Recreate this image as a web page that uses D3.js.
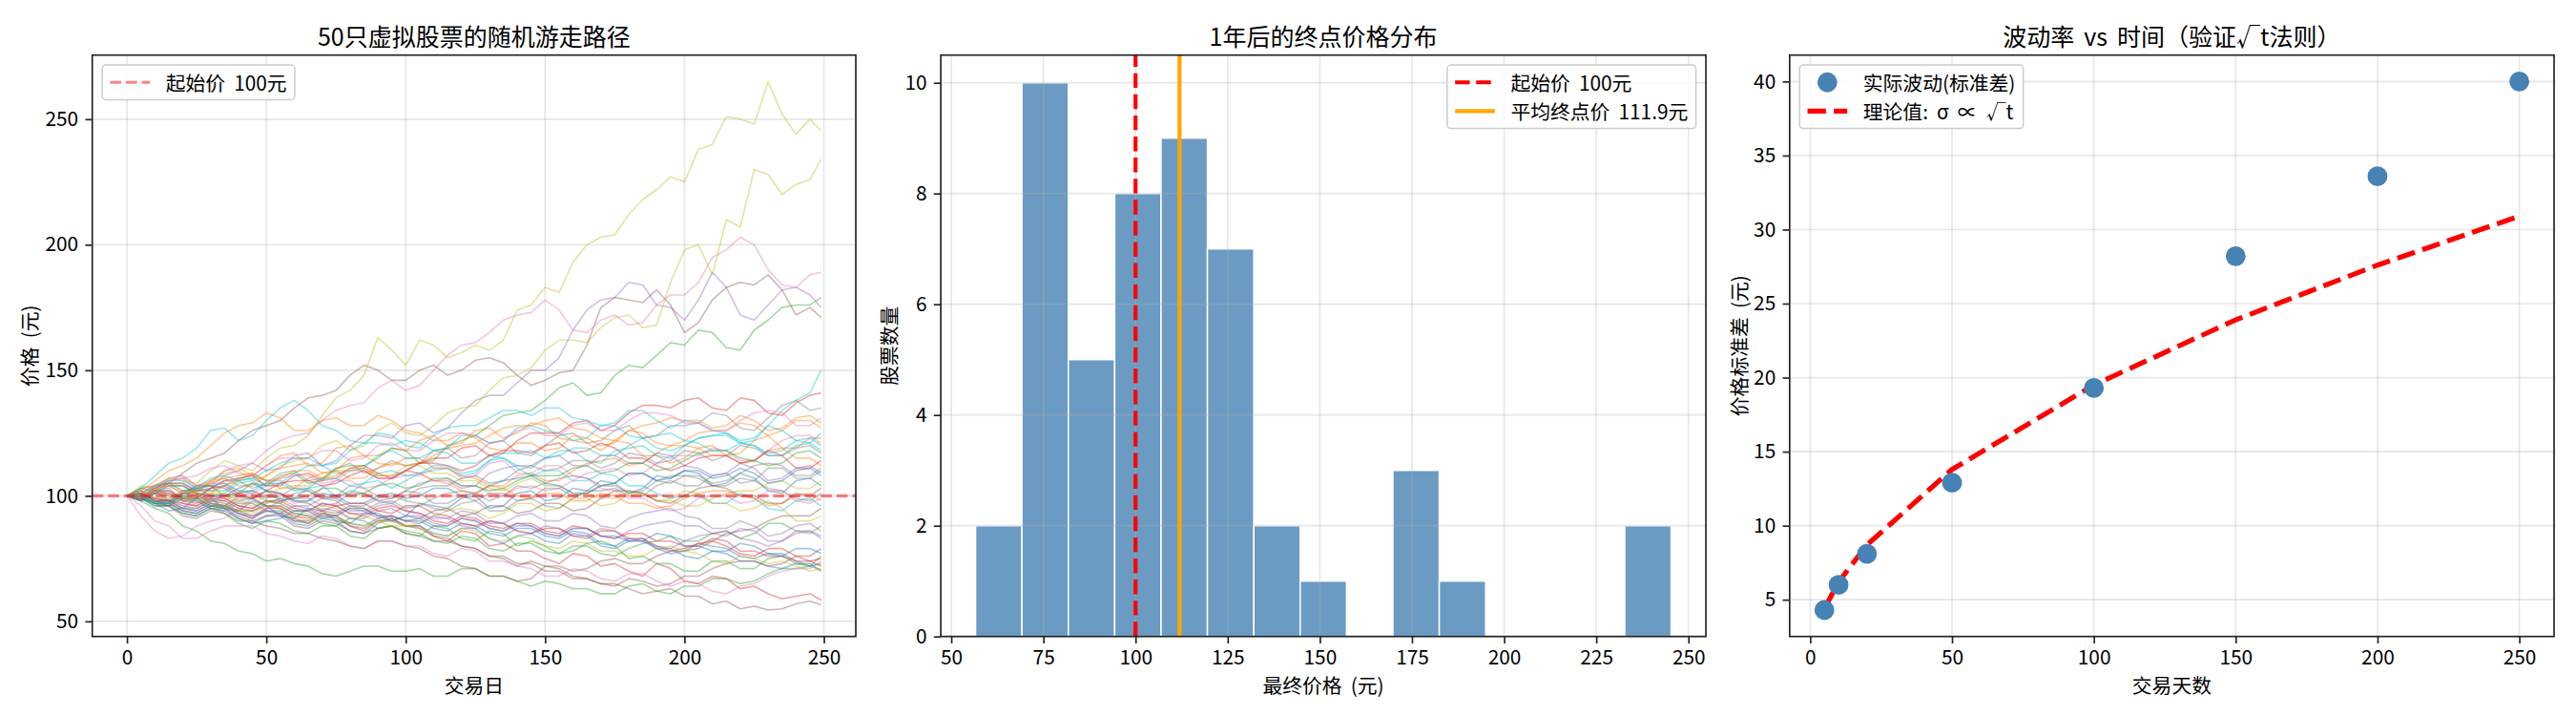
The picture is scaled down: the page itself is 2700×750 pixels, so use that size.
<!DOCTYPE html>
<html>
<head>
<meta charset="utf-8">
<script src="https://cdn.jsdelivr.net/npm/d3@7"></script>
<style>
  body { margin: 0; background: #fff; }
  svg { font-family: "Noto Sans CJK SC", "DejaVu Sans", sans-serif; word-spacing: 0.28em; }
</style>
</head>
<body>
<svg id="fig" width="2700" height="750"></svg>
<script>
// ---- data ----
const startPrice = 100;
const days = [0, 5, 10, 15, 20, 25, 30, 35, 40, 45, 50, 55, 60, 65, 70, 75, 80, 85, 90, 95, 100, 105, 110, 115, 120,
  125, 130, 135, 140, 145, 150, 155, 160, 165, 170, 175, 180, 185, 190, 195, 200, 205, 210, 215, 220, 225, 230, 235, 240, 245, 249];

// price of each of the 50 stocks on the days above
const paths = [
  [100,101,97,94,95,99,99,95,94,98,96,92,91,95,94,90,89,93,93,90,92,97,96,95,99,100,95,96,101,102,98,99,103,102,106,105,101,103,108,107,110,109,104,105,109,107,102,101,106,107,104],
  [100,98,104,107,108,104,105,110,111,108,112,116,117,112,113,119,120,116,116,119,118,122,124,120,121,126,127,123,125,129,128,123,122,121,118,122,121,116,116,113,115,119,120,116,117,122,124,119,119,123,123],
  [100,103,102,98,99,103,104,100,101,105,104,108,109,105,106,111,112,112,115,119,118,113,114,120,122,124,128,132,133,134,138,143,145,140,141,148,152,151,156,161,160,166,165,159,158,166,170,175,176,176,179],
  [100,102,98,96,101,101,97,96,93,91,95,95,91,89,93,92,88,86,90,91,88,88,84,82,86,85,80,81,78,78,75,73,77,76,72,73,70,68,73,71,66,65,68,67,63,64,61,59,60,61,58.5],
  [100,99,103,106,107,103,104,108,110,113,110,111,116,117,112,114,120,124,124,123,128,129,125,127,133,138,140,140,145,150,150,155,166,174,178,179,185,184,176,175,170,178,189,183,172,170,176,182,183,180,175],
  [100,103,104,105,109,113,115,117,122,126,128,130,135,139,140,142,148,152,150,146,146,150,152,148,150,154,155,153,148,144,146,149,150,160,175,179,178,177,182,176,165,169,178,183,185,184,188,182,172,175,171],
  [100,99,103,107,108,104,106,110,112,113,118,122,124,125,130,134,136,137,143,146,142,144,150,156,160,161,165,170,172,173,178,174,166,165,170,172,168,169,176,180,180,185,195,198,203,200,190,184,183,188,189],
  [100,98,102,103,98,99,103,106,106,103,105,109,110,106,107,111,113,109,111,114,112,113,118,119,115,116,121,122,117,116,120,124,125,121,122,126,128,123,124,128,128,129,133,132,127,126,131,136,138,134,135],
  [100,101,104,107,106,105,110,114,112,110,115,119,120,124,132,139,142,148,163,158,152,162,160,155,157,160,158,162,174,176,183,181,193,200,203,204,212,218,222,227,225,238,240,251,250,248,265,252,244,250,245.3],
  [100,101,98,97,102,103,100,101,105,106,102,98,99,103,104,100,101,105,106,103,106,109,110,111,108,109,114,115,112,111,115,118,118,114,113,118,119,120,116,115,120,123,124,125,121,122,128,134,138,141,150],
  [100,99,97,97,94,93,96,95,91,89,92,93,89,88,91,90,86,85,89,91,88,88,85,84,87,87,83,81,84,85,82,81,85,84,80,79,82,83,79,77,78,81,80,79,76,75,77,77,74,72,73],
  [100,101,104,105,102,102,106,107,104,104,108,111,112,113,109,110,115,116,113,112,115,115,111,111,108,107,104,104,108,109,106,106,110,113,114,115,112,113,117,120,120,119,116,116,113,114,118,119,115,115,112],
  [100,99,96,96,93,92,95,93,89,87,90,89,86,85,88,88,84,83,87,88,85,84,88,87,83,82,86,85,80,82,80,77,78,81,82,80,75,76,73,73,70,70,74,74,71,71,75,76,73,72,76],
  [100,99,102,105,105,102,103,106,107,108,104,104,108,109,106,107,111,112,109,107,110,113,115,115,119,120,116,117,122,125,125,125,129,130,126,128,133,136,136,135,138,139,135,134,139,138,133,132,137,140,141],
  [100,98,101,100,97,96,99,99,96,95,98,97,94,94,97,96,93,93,96,97,94,93,91,91,94,93,89,89,92,93,90,90,93,92,88,87,91,93,94,95,92,91,87,87,90,88,84,85,88,89,86],
  [100,100,97,97,94,93,96,95,92,90,92,92,88,87,90,89,86,85,87,88,85,84,82,82,80,79,76,76,73,73,70,70,67,67,65,65,63,61,62,63,60,60,57,58,55,56,54.5,55,57,58,56.6],
  [100,92,86,83,84,88,90,91,95,99,100,101,97,98,103,106,106,103,104,107,108,108,111,111,107,108,113,114,109,109,112,112,108,107,103,102,99,99,96,94,95,99,100,100,97,98,102,102,98,97,99],
  [100,98,101,102,99,99,96,96,100,101,98,97,101,102,99,100,104,103,100,99,102,101,97,97,100,98,94,94,98,99,96,95,99,102,102,103,100,100,104,106,104,104,108,109,105,106,111,111,107,107,110],
  [100,104,103,100,99,101,106,109,110,106,108,112,114,115,120,122,118,120,126,129,125,124,128,133,135,136,142,147,148,151,158,162,162,161,167,171,172,167,168,185,198,200,188,210,207,230,228,220,224,226,234],
  [100,100,103,106,106,103,102,102,106,107,104,105,109,112,112,109,110,111,116,118,115,115,118,117,113,113,116,115,111,108,110,110,106,106,109,108,104,104,101,99,100,100,97,97,101,99,95,94,98,99,96],
  [100,101,98,98,95,94,97,96,93,91,94,94,90,90,93,92,89,88,91,92,90,90,87,86,89,88,85,84,87,87,84,83,86,85,81,80,83,82,79,79,76,75,78,77,74,74,72,71,73,73,70],
  [100,99,102,105,104,101,101,104,106,109,106,103,103,107,109,110,107,107,111,113,112,113,116,119,120,121,124,127,128,128,130,131,127,126,123,122,126,125,121,120,122,125,126,126,129,128,124,126,130,130,127],
  [100,100,97,96,99,98,95,95,98,99,96,96,93,92,89,88,91,90,87,88,86,85,82,81,84,83,79,78,81,81,78,77,80,80,77,76,79,81,82,84,82,82,85,86,83,85,89,89,86,85,88],
  [100,99,101,101,98,97,100,99,96,95,98,98,95,94,97,96,93,92,95,96,94,93,90,89,92,91,88,87,89,89,86,85,88,87,84,83,85,85,82,82,80,80,83,82,78,78,76,76,74,74,72],
  [100,101,98,97,95,94,97,96,93,92,95,98,99,99,96,97,101,101,98,99,102,105,106,106,103,104,109,111,112,112,115,116,112,112,116,116,113,113,117,116,112,111,108,109,113,111,106,107,111,112,109],
  [100,102,99,98,96,95,98,97,94,92,94,93,90,89,92,91,88,87,90,90,88,87,84,83,80,79,76,75,72,74,72,71,68,67,65,64,67,66,64,65,68,68,71,73,74,74,72,73,76,76,79],
  [100,100,103,104,101,102,105,105,102,101,104,107,108,108,105,106,110,110,107,107,110,109,106,107,104,104,101,100,103,104,102,103,106,109,110,111,108,109,113,116,116,116,119,118,114,114,118,122,124,124,121],
  [100,101,99,99,102,101,98,98,101,102,100,99,96,96,99,98,94,94,97,98,95,96,99,101,102,101,98,100,104,103,105,107,108,107,104,105,109,109,106,105,108,107,104,104,107,106,103,102,99,98,101],
  [100,99,101,101,98,98,101,100,97,96,98,97,94,93,96,95,91,92,90,88,88,89,92,94,95,94,91,93,97,97,94,95,99,99,96,97,101,101,98,99,102,101,97,97,94,95,98,95,90,90,92],
  [100,101,104,105,102,103,107,108,106,107,110,113,115,115,112,113,118,121,121,120,122,121,118,119,124,124,121,122,127,128,126,125,122,123,128,128,124,123,119,118,120,123,124,124,121,120,116,116,120,121,118],
  [100,99,96,96,93,92,95,94,91,89,90,91,94,94,91,92,95,95,92,90,92,91,88,88,91,90,87,86,89,88,85,84,87,87,84,84,82,82,85,84,80,80,78,78,81,80,77,76,79,79,77],
  [100,102,106,110,112,115,120,125,128,129,133,131,126,126,130,131,128,128,132,130,126,125,122,122,125,123,119,118,121,121,118,119,124,123,120,121,126,128,129,131,130,130,127,128,132,130,126,127,131,132,129],
  [100,98,95,93,88,86,82,81,78,77,74,75,73,72,69,68,70,72,72,70,70,71,68,68,71,71,68,68,66,64,66,65,63,63,61,61,64,65,62,61,64,64,67,67,65,66,69,71,71,72,70.5],
  [100,99,102,102,99,99,103,104,101,99,102,105,106,106,104,105,108,110,107,107,110,113,113,112,110,112,116,118,118,117,120,121,117,118,121,119,115,115,112,110,112,115,116,116,113,114,118,116,111,111,114],
  [100,101,98,98,101,100,97,96,99,99,96,96,93,92,95,94,91,91,94,95,92,92,89,88,91,90,87,86,88,88,85,84,87,87,84,83,86,88,89,90,88,88,85,84,87,86,82,82,85,86,83],
  [100,99,97,96,92,91,94,93,90,90,88,87,85,85,83,82,80,79,82,82,80,79,76,75,72,71,68,68,66,67,72,72,70,71,74,75,73,73,76,78,78,79,82,85,86,87,90,92,92,92,95],
  [100,96,90,88,83,83,86,88,88,88,85,84,82,81,84,83,80,79,82,82,80,80,77,76,79,78,74,74,72,71,68,68,71,70,67,66,69,69,66,64,66,65,62,61,64,65,68,70,71,71,74],
  [100,100,103,105,105,102,102,104,107,108,106,106,103,102,99,99,102,101,98,97,100,103,104,104,107,108,105,106,110,112,110,111,114,114,111,113,117,116,113,114,118,117,114,116,120,119,116,116,119,120,117],
  [100,99,102,104,104,101,101,101,98,97,100,103,104,104,107,110,110,111,108,108,112,112,109,109,106,106,103,102,105,107,104,104,101,101,99,99,102,101,98,98,96,96,99,101,102,102,105,106,103,103,106],
  [100,103,108,113,115,119,126,127,122,124,130,135,138,134,128,126,122,121,125,124,120,119,124,127,128,128,131,134,134,132,135,135,131,130,128,129,134,134,130,127,130,129,126,125,122,123,128,126,122,121,125],
  [100,98,101,104,104,101,100,100,103,105,102,101,98,98,101,100,97,97,100,101,99,100,103,103,100,101,104,106,107,108,105,104,101,101,104,105,109,109,106,107,110,110,107,108,111,109,105,106,110,111,108],
  [100,100,103,104,101,102,105,107,108,109,106,107,110,110,107,108,111,111,108,108,110,109,106,105,102,101,104,103,100,99,101,101,98,98,101,100,97,97,95,96,99,101,102,102,100,99,96,97,100,101,98],
  [100,100,97,97,100,99,96,96,94,94,97,99,99,100,103,103,100,101,104,105,103,104,107,107,104,104,102,103,106,108,108,108,111,112,109,110,113,113,110,111,114,117,118,118,115,114,112,113,117,118,115],
  [100,101,99,98,97,96,99,98,95,94,96,95,92,91,94,96,97,97,94,93,96,96,93,92,89,88,90,89,86,85,87,87,84,83,86,86,83,83,80,78,79,81,82,80,77,76,79,79,76,74,75],
  [100,99,102,101,98,98,95,94,97,97,94,93,96,95,92,92,95,94,91,92,90,89,92,91,88,87,90,89,86,85,88,87,84,84,87,86,82,82,80,79,82,84,85,86,83,82,80,82,86,86,84],
  [100,101,98,98,101,104,104,103,100,99,102,101,98,97,94,93,96,95,92,92,90,91,94,95,92,93,96,96,93,94,97,97,94,95,99,102,102,101,98,97,100,103,104,103,100,100,97,97,101,100,103],
  [100,101,104,106,107,108,111,112,109,108,112,115,115,115,118,118,114,115,120,121,118,118,122,125,125,124,121,122,126,127,124,124,128,129,126,126,130,133,133,132,129,129,126,126,130,133,134,133,128,128,131],
  [100,101,98,98,95,95,98,100,101,102,99,100,103,103,100,99,96,96,99,100,98,97,95,94,97,98,101,101,98,99,103,103,100,101,104,104,101,102,106,108,108,108,105,106,109,112,113,112,108,108,111],
  [100,102,99,99,102,101,97,96,94,93,96,95,92,90,93,92,89,88,90,90,88,87,85,84,87,86,83,82,84,83,80,79,82,81,78,78,76,76,79,80,78,77,74,73,76,75,73,74,72,70,71],
  [100,100,97,97,100,103,104,105,102,102,105,105,102,103,107,107,104,105,109,110,108,109,112,112,109,110,114,117,117,118,115,116,119,119,116,116,120,123,124,125,122,121,118,118,121,120,117,118,122,123,120]
];

const histBinCount = 15;

// volatility check (third panel)
const volDays = [5, 10, 20, 50, 100, 150, 200, 250];
const volActual = [4.3, 6.0, 8.1, 12.9, 19.3, 28.2, 33.6, 40.0];
const volTheory = [4.4, 6.2, 8.7, 13.8, 19.5, 23.9, 27.6, 30.9];

// tick labels
const walkXTicks = [0, 50, 100, 150, 200, 250];
const walkYTicks = [50, 100, 150, 200, 250];
const histXTicks = [50, 75, 100, 125, 150, 175, 200, 225, 250];
const histYTicks = [0, 2, 4, 6, 8, 10];
const volXTicks = [0, 50, 100, 150, 200, 250];
const volYTicks = [5, 10, 15, 20, 25, 30, 35, 40];

const tab10 = ['#1f77b4', '#ff7f0e', '#2ca02c', '#d62728', '#9467bd', '#8c564b', '#e377c2', '#7f7f7f', '#bcbd22', '#17becf'];

// ---- layout ----
const em = 20.8;            // 10pt at 150 dpi
const axTop = 57.7, axBottom = 666.7;
const panels = [
  { left: 96.7, right: 897 },
  { left: 986.1, right: 1788 },
  { left: 1875.8, right: 2677 }
];
const svg = d3.select('#fig');

const withMargin = ([a, b]) => { const m = (b - a) * 0.05; return [a - m, b + m]; };

function makeAxes(i, xDomain, yDomain) {
  const p = panels[i];
  const x = d3.scaleLinear().domain(xDomain).range([p.left, p.right]);
  const y = d3.scaleLinear().domain(yDomain).range([axBottom, axTop]);
  svg.append('clipPath').attr('id', 'clip' + i)
    .append('rect')
    .attr('x', p.left).attr('y', axTop)
    .attr('width', p.right - p.left).attr('height', axBottom - axTop);
  const g = svg.append('g');
  return { g, x, y, p, clip: `url(#clip${i})` };
}

function drawGrid(ax, xTicks, yTicks) {
  const grid = ax.g.append('g').attr('stroke', '#b0b0b0').attr('stroke-opacity', 0.3).attr('stroke-width', 1.67);
  grid.selectAll('.gx').data(xTicks).enter().append('line')
    .attr('x1', d => ax.x(d)).attr('x2', d => ax.x(d))
    .attr('y1', axTop).attr('y2', axBottom);
  grid.selectAll('.gy').data(yTicks).enter().append('line')
    .attr('x1', ax.p.left).attr('x2', ax.p.right)
    .attr('y1', d => ax.y(d)).attr('y2', d => ax.y(d));
}

function styleAxis(sel) {
  sel.select('.domain').remove();
  sel.attr('font-size', null).attr('font-family', null);
  sel.selectAll('line').attr('stroke', '#222').attr('stroke-width', 1.67);
  sel.selectAll('text').attr('fill', '#000').style('font-size', em + 'px');
}

function drawFrame(ax, xTicks, yTicks, title, xLabel, yLabel, yLabelX) {
  const g = ax.g;
  g.append('g')
    .attr('transform', `translate(0,${axBottom})`)
    .call(d3.axisBottom(ax.x).tickValues(xTicks).tickSize(7.3).tickPadding(7.3).tickSizeOuter(0))
    .call(styleAxis);
  g.append('g')
    .attr('transform', `translate(${ax.p.left},0)`)
    .call(d3.axisLeft(ax.y).tickValues(yTicks).tickSize(7.3).tickPadding(7.3).tickSizeOuter(0))
    .call(styleAxis);

  g.append('rect')
    .attr('x', ax.p.left).attr('y', axTop)
    .attr('width', ax.p.right - ax.p.left).attr('height', axBottom - axTop)
    .attr('fill', 'none').attr('stroke', '#222').attr('stroke-width', 1.67);

  const cx = (ax.p.left + ax.p.right) / 2;
  g.append('text')
    .attr('x', cx).attr('y', 37)
    .attr('text-anchor', 'middle').attr('dominant-baseline', 'central')
    .style('font-size', '25px')
    .text(title);
  g.append('text')
    .attr('x', cx).attr('y', 717)
    .attr('text-anchor', 'middle').attr('dominant-baseline', 'central')
    .style('font-size', em + 'px')
    .text(xLabel);
  g.append('text')
    .attr('transform', `translate(${yLabelX},${(axTop + axBottom) / 2}) rotate(-90)`)
    .attr('text-anchor', 'middle').attr('dominant-baseline', 'central')
    .style('font-size', em + 'px')
    .text(yLabel);
}

// legend that mimics matplotlib's box
function drawLegend(ax, corner, items) {
  const pad = 0.4 * em, handleLen = 2 * em, textPad = 0.8 * em, rowH = 19.7, gap = 0.5 * em;
  const g = svg.append('g');
  const box = g.append('rect');
  const texts = items.map(it => g.append('text')
    .attr('dominant-baseline', 'central')
    .style('font-size', em + 'px')
    .text(it.label));
  const textW = d3.max(texts, t => t.node().getComputedTextLength());
  const w = pad * 2 + handleLen + textPad + textW;
  const h = pad * 2 + rowH * items.length + gap * (items.length - 1);
  const bx = corner === 'ul' ? ax.p.left + 0.5 * em : ax.p.right - 0.5 * em - w;
  const by = axTop + 0.5 * em;
  box.attr('x', bx).attr('y', by).attr('width', w).attr('height', h)
    .attr('rx', 4)
    .attr('fill', '#fff').attr('fill-opacity', 0.8)
    .attr('stroke', '#cccccc').attr('stroke-width', 1.5);
  items.forEach((it, k) => {
    const cy = by + pad + rowH / 2 + k * (rowH + gap);
    const hx = bx + pad;
    if (it.type === 'marker') {
      g.append('circle').attr('cx', hx + handleLen / 2).attr('cy', cy).attr('r', 10.4)
        .attr('fill', it.color);
    } else {
      g.append('line').attr('x1', hx).attr('x2', hx + handleLen).attr('y1', cy).attr('y2', cy)
        .attr('stroke', it.color).attr('stroke-width', it.width)
        .attr('stroke-opacity', it.opacity || 1)
        .attr('stroke-dasharray', it.dash || null);
    }
    texts[k].attr('x', hx + handleLen + textPad).attr('y', cy);
  });
}

// ---- panel 1: random walks ----
const allPrices = paths.flat();
const walk = makeAxes(0, withMargin([0, d3.max(days)]), withMargin(d3.extent(allPrices)));
drawGrid(walk, walkXTicks, walkYTicks);

const walkLine = d3.line()
  .x((d, i) => walk.x(days[i]))
  .y(d => walk.y(d));

walk.g.append('g').attr('clip-path', walk.clip)
  .selectAll('path')
  .data(paths)
  .enter()
  .append('path')
  .attr('d', walkLine)
  .attr('fill', 'none')
  .attr('stroke', (d, i) => tab10[i % 10])
  .attr('stroke-width', 1.6)
  .attr('stroke-opacity', 0.42)
  .attr('stroke-linejoin', 'round');

walk.g.append('line')
  .attr('x1', walk.p.left).attr('x2', walk.p.right)
  .attr('y1', walk.y(startPrice)).attr('y2', walk.y(startPrice))
  .attr('stroke', 'red').attr('stroke-opacity', 0.5)
  .attr('stroke-width', 3.1).attr('stroke-dasharray', '11.6,5');

drawFrame(walk, walkXTicks, walkYTicks, '50只虚拟股票的随机游走路径', '交易日', '价格 (元)', 30);
drawLegend(walk, 'ul', [
  { type: 'line', color: 'red', width: 3.1, opacity: 0.5, dash: '11.6,5', label: `起始价 ${startPrice}元` }
]);

// ---- panel 2: histogram of final prices ----
const finals = paths.map(p => p[p.length - 1]);
const [fMin, fMax] = d3.extent(finals);
const binW = (fMax - fMin) / histBinCount;
const bins = d3.bin()
  .domain([fMin, fMax])
  .thresholds(d3.range(1, histBinCount).map(k => fMin + k * binW))(finals);
const meanFinal = d3.mean(finals);

const hist = makeAxes(1, withMargin([fMin, fMax]), [0, d3.max(bins, b => b.length) * 1.05]);

hist.g.append('g')
  .selectAll('rect')
  .data(bins.filter(b => b.length > 0))
  .enter()
  .append('rect')
  .attr('x', b => hist.x(b.x0))
  .attr('width', b => hist.x(b.x1) - hist.x(b.x0))
  .attr('y', b => hist.y(b.length))
  .attr('height', b => hist.y(0) - hist.y(b.length))
  .attr('fill', 'steelblue').attr('fill-opacity', 0.8)
  .attr('stroke', '#fff').attr('stroke-width', 1.5);

drawGrid(hist, histXTicks, histYTicks);

hist.g.append('line')
  .attr('x1', hist.x(startPrice)).attr('x2', hist.x(startPrice))
  .attr('y1', axBottom).attr('y2', axTop)
  .attr('stroke', 'red').attr('stroke-width', 4.17).attr('stroke-dasharray', '15.4,6.7');
hist.g.append('line')
  .attr('x1', hist.x(meanFinal)).attr('x2', hist.x(meanFinal))
  .attr('y1', axBottom).attr('y2', axTop)
  .attr('stroke', 'orange').attr('stroke-width', 4.17);

drawFrame(hist, histXTicks, histYTicks, '1年后的终点价格分布', '最终价格 (元)', '股票数量', 931);
drawLegend(hist, 'ur', [
  { type: 'line', color: 'red', width: 4.17, dash: '15.4,6.7', label: `起始价 ${startPrice}元` },
  { type: 'line', color: 'orange', width: 4.17, label: `平均终点价 ${meanFinal.toFixed(1)}元` }
]);

// ---- panel 3: volatility vs time ----
const vol = makeAxes(2, withMargin(d3.extent(volDays)), withMargin(d3.extent(volActual.concat(volTheory))));
drawGrid(vol, volXTicks, volYTicks);

vol.g.append('path')
  .datum(volTheory)
  .attr('d', d3.line().x((d, i) => vol.x(volDays[i])).y(d => vol.y(d)))
  .attr('fill', 'none')
  .attr('stroke', 'red').attr('stroke-width', 5.2)
  .attr('stroke-dasharray', '19.3,8.3');

vol.g.append('g')
  .selectAll('circle')
  .data(volActual)
  .enter()
  .append('circle')
  .attr('cx', (d, i) => vol.x(volDays[i]))
  .attr('cy', d => vol.y(d))
  .attr('r', 10.4)
  .attr('fill', 'steelblue');

drawFrame(vol, volXTicks, volYTicks, '波动率 vs 时间（验证√t法则）', '交易天数', '价格标准差 (元)', 1822);
drawLegend(vol, 'ul', [
  { type: 'marker', color: 'steelblue', label: '实际波动(标准差)' },
  { type: 'line', color: 'red', width: 5.2, dash: '19.3,8.3', label: '理论值: σ ∝ √t' }
]);
</script>
</body>
</html>
